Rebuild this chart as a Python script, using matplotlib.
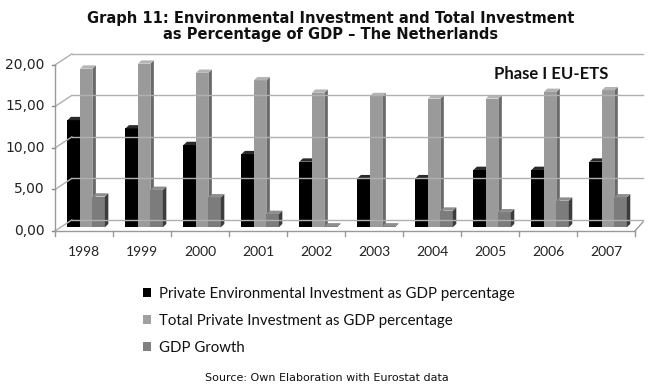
import matplotlib.pyplot as plt
from matplotlib.patches import Polygon, Rectangle, Patch

# data
years = ["1998", "1999", "2000", "2001", "2002", "2003", "2004", "2005", "2006", "2007"]
env_inv = [12.9, 11.9, 9.9, 8.8, 7.9, 5.9, 5.9, 6.9, 6.9, 7.9]
total_inv = [19.1, 19.7, 18.6, 17.7, 16.2, 15.8, 15.5, 15.5, 16.3, 16.5]
gdp_growth = [3.7, 4.5, 3.6, 1.6, 0.1, 0.1, 2.0, 1.8, 3.2, 3.6]
labels = ["Private Environmental Investment as GDP percentage",
          "Total Private Investment as GDP percentage",
          "GDP Growth"]
yticks = [0, 5, 10, 15, 20]

front_cols = ["#000000", "#9a9a9a", "#7c7c7c"]
side_cols = ["#1a1a1a", "#6a6a6a", "#3c3c3c"]
top_cols = ["#2a2a2a", "#b4b4b4", "#8e8e8e"]

fig = plt.figure(figsize=(6.54, 3.91), dpi=100)
ax = fig.add_axes([55 / 654, (391 - 231) / 391, 595 / 654, 178.5 / 391])
ax.set_xlim(-0.5, 9.76)
ax.set_ylim(0, 21.5)
ax.axis("off")

# back wall offsets (data units)
wdx, wdy = 0.29, 1.33
xr = 9.64
grid_c = "#b0b0b0"
for v in yticks:
    ax.plot([-0.5, -0.5 + wdx], [v, v + wdy], color=grid_c, lw=1, clip_on=False)
    ax.plot([-0.5 + wdx, xr], [v + wdy, v + wdy], color=grid_c, lw=1, clip_on=False)
    ax.plot([-0.56, -0.5], [v, v], color="#888888", lw=1, clip_on=False)
    ax.text(-0.68, v, f"{v:.2f}".replace(".", ","), ha="right", va="center",
            fontsize=10, color="#222222", family="DejaVu Sans")
ax.plot([-0.5, -0.5], [0, 20], color="#999999", lw=1, clip_on=False)
# floor
ax.plot([-0.5, 9.5], [0, 0], color="#999999", lw=1, clip_on=False)
ax.plot([9.5, xr], [0, 1.1], color="#999999", lw=1, clip_on=False)
for i in range(11):
    ax.plot([i - 0.5, i - 0.5], [0, -0.6], color="#999999", lw=1, clip_on=False)
for i, yr in enumerate(years):
    ax.text(i, -2.5, yr, ha="center", va="center", fontsize=10,
            color="#222222", family="Lato")

# pseudo 3D bars
base = 0.45
w = 0.215
dx, dy = 0.06, 0.4
series = [env_inv, total_inv, gdp_growth]
for k, vals in enumerate(series):
    for i, v in enumerate(vals):
        x0 = i - 0.285 + k * w
        top = base + v
        ax.add_patch(Rectangle((x0, base), w, v, facecolor=front_cols[k],
                               edgecolor="none"))
        ax.add_patch(Polygon([(x0 + w, base), (x0 + w + dx, base + dy),
                              (x0 + w + dx, top + dy), (x0 + w, top)],
                             facecolor=side_cols[k], edgecolor="none"))
        ax.add_patch(Polygon([(x0, top), (x0 + dx, top + dy),
                              (x0 + w + dx, top + dy), (x0 + w, top)],
                             facecolor=top_cols[k], edgecolor="none"))

ax.text(8.05, 18.9, "Phase I EU-ETS", ha="center", va="center",
        fontsize=12, fontweight="bold", color="#111111", family="Lato")

fig.text(0.505, 1 - 18 / 391, "Graph 11: Environmental Investment and Total Investment",
         ha="center", va="center", fontsize=10.5, fontweight="bold",
         color="#111111", family="DejaVu Sans")
fig.text(0.505, 1 - 35 / 391, "as Percentage of GDP – The Netherlands",
         ha="center", va="center", fontsize=10.5, fontweight="bold",
         color="#111111", family="DejaVu Sans")

handles = [Patch(facecolor=c, edgecolor="none") for c in ["#000000", "#a0a0a0", "#808080"]]
fig.legend(handles, labels, loc="upper left", bbox_to_anchor=(143 / 654, 1 - 287 / 391),
           frameon=False, handlelength=0.55, handleheight=0.55, handletextpad=0.5,
           labelspacing=0.85, prop={"family": "Lato", "size": 10.8},
           labelcolor="#111111", borderpad=0, borderaxespad=0)

fig.text(0.5, 1 - 378 / 391, "Source: Own Elaboration with Eurostat data",
         ha="center", va="center", fontsize=8, color="#111111", family="DejaVu Sans")

fig.savefig("out.png", dpi=100)
